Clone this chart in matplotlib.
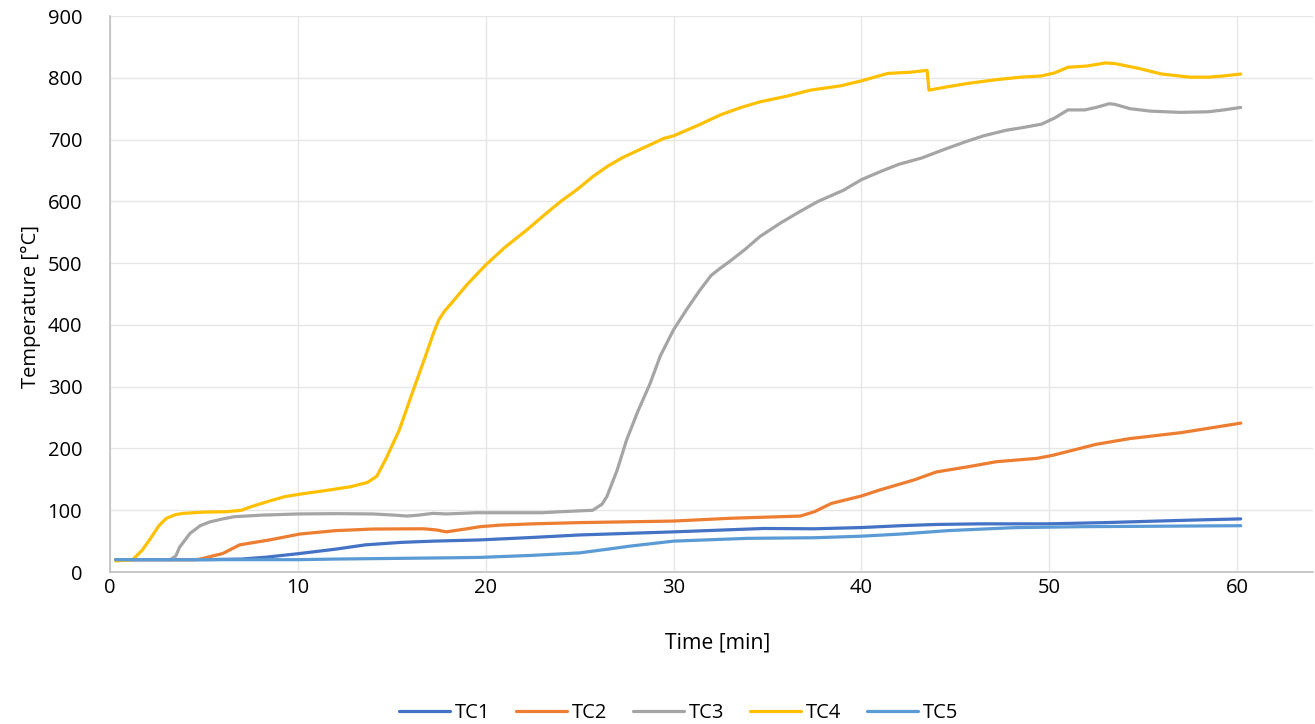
import matplotlib
matplotlib.use("Agg")
import matplotlib.pyplot as plt

plt.rcParams['font.family'] = ['Open Sans', 'DejaVu Sans']

# ---- data (time in min, temperature in °C) ----
tc1_t = [0.3, 5.0, 7.0, 8.3, 10.1, 12.0, 13.6, 15.5, 17.2, 19.7, 22.5, 25.0, 30.0, 34.8, 37.5, 40.0, 42.1, 44.0, 46.3, 49.9, 53.0, 55.2, 57.5, 60.2]
tc1_v = [20, 20, 21, 24, 30, 37, 44, 48, 50, 52, 56, 60, 65, 70.5, 70, 72, 75, 77, 78, 78, 80, 82, 84, 86]

tc2_t = [0.3, 4.5, 4.8, 6.0, 6.9, 8.5, 10.1, 12.0, 14.0, 16.7, 17.4, 17.9, 19.0, 19.7, 20.8, 22.5, 25.0, 30.0, 33.0, 36.75, 37.5, 38.4, 40.0, 41.0, 42.8, 44.0, 45.7, 47.2, 49.35, 50.2, 52.5, 54.3, 57.0, 60.2]
tc2_v = [20, 20, 21, 30, 44, 52, 61.5, 67, 69.6, 70, 68, 65, 70, 73.4, 76, 78, 80, 82.5, 87, 90.6, 97.6, 111, 123, 133, 149, 162, 170.5, 178.6, 184, 189, 206.7, 216, 225.5, 241]

tc3_t = [0.3, 3.2, 3.5, 3.7, 4.26, 4.8, 5.3, 6.0, 6.6, 8.0, 10.0, 12.0, 14.0, 15.2, 15.8, 16.4, 17.2, 17.9, 19.5, 20.8, 23.0, 24.0, 25.7, 26.2, 26.45, 27.0, 27.5, 28.1, 28.75, 29.3, 30.0, 30.7, 31.4, 32.0, 32.5, 33.0, 33.8, 34.6, 35.7, 36.7, 37.7, 39.05, 40.0, 41.0, 42.0, 43.2, 44.5, 45.6, 46.5, 47.7, 48.7, 49.6, 50.3, 51.0, 51.9, 52.5, 53.2, 53.5, 54.3, 55.4, 57.0, 58.5, 59.3, 60.2]
tc3_v = [20, 20, 26, 40, 62.6, 75, 81, 86, 89.5, 92, 94, 94.5, 94, 92, 90.6, 92, 95, 94, 96, 96, 96, 97.6, 100, 110, 122, 165, 213.6, 260, 305, 350, 392, 425, 456, 480, 492, 503, 522, 543, 565, 583, 600, 618, 635, 648, 660, 670, 685, 697, 706, 715, 720, 725, 735, 748, 748, 752, 758, 757, 750, 746, 744, 745, 748, 752]

tc4_t = [0.3, 1.2, 1.7, 2.1, 2.6, 3.0, 3.5, 3.9, 5.0, 6.2, 7.0, 7.5, 8.5, 9.3, 10.1, 11.5, 12.8, 13.7, 14.2, 14.7, 15.4, 16.15, 16.8, 17.2, 17.5, 17.8, 18.2, 19.0, 20.0, 21.0, 22.2, 23.2, 24.0, 24.9, 25.7, 26.5, 27.3, 28.5, 29.5, 30.0, 31.3, 32.5, 33.6, 34.6, 36.0, 37.3, 38.9, 40.0, 41.4, 42.6, 43.5, 43.6, 44.5, 45.7, 47.2, 48.5, 49.6, 50.3, 51.0, 52.0, 53.0, 53.5, 54.8, 56.0, 57.5, 58.5, 59.3, 60.2]
tc4_v = [18, 20, 35, 52, 75, 87, 93, 95, 97, 97.6, 100, 105.7, 115, 122, 126, 132, 138, 145, 155, 184, 230, 295, 350, 385, 408, 422, 436, 465, 497, 525, 554, 580, 600, 620, 640, 657, 671, 688, 702, 706, 723, 740, 752, 761, 770, 780, 787, 795, 807, 809, 812, 780, 785, 791, 797, 801, 803, 808, 817, 819, 824, 823, 815, 806, 801, 801, 803, 806]

tc5_t = [0.3, 10.0, 12.0, 15.0, 18.0, 19.7, 22.5, 25.0, 26.5, 27.7, 30.0, 33.9, 37.5, 40.0, 42.1, 44.6, 48.1, 51.7, 55.0, 60.2]
tc5_v = [20, 20, 21, 22, 23, 23.7, 27, 31, 37, 42, 50, 54.5, 55.5, 58, 61.5, 67, 71.8, 73.4, 74, 75]

series_names = ["TC1", "TC2", "TC3", "TC4", "TC5"]
series_t = [tc1_t, tc2_t, tc3_t, tc4_t, tc5_t]
series_v = [tc1_v, tc2_v, tc3_v, tc4_v, tc5_v]
colors = ["#4472C4", "#ED7D31", "#A5A5A5", "#FFC000", "#5B9BD5"]

x_ticks = [0, 10, 20, 30, 40, 50, 60]
y_ticks = [0, 100, 200, 300, 400, 500, 600, 700, 800, 900]

FS = 14.5

fig = plt.figure(figsize=(13.15, 7.24), dpi=100)
ax = fig.add_axes([0.0837, 0.2099, 0.9148, 0.7680])

for name, t, v, c in zip(series_names, series_t, series_v, colors):
    ax.plot(t, v, color=c, lw=2.3, label=name, solid_capstyle='round', solid_joinstyle='round')

ax.set_xlim(0, 64.05)
ax.set_ylim(0, 900)
ax.set_xticks(x_ticks)
ax.set_yticks(y_ticks)
ax.grid(True, color="#E6E6E6", lw=1.0)
ax.set_axisbelow(True)
for s in ["top", "right"]:
    ax.spines[s].set_visible(False)
for s in ["left", "bottom"]:
    ax.spines[s].set_color("#BFBFBF")
    ax.spines[s].set_linewidth(1.2)
ax.tick_params(length=0, labelsize=FS, colors="#000000")
ax.tick_params(axis='y', pad=20)
ax.tick_params(axis='x', pad=4)

ax.set_xlabel("Time [min]", fontsize=15.2, va='center')
ax.set_ylabel("Temperature [°C]", fontsize=FS, va='center')
ax.xaxis.set_label_coords(0.505, -0.128)
ax.yaxis.set_label_coords(-0.066, 0.477)

leg = fig.legend(loc="center", bbox_to_anchor=(0.516, 0.015), ncol=5, frameon=False,
                 fontsize=FS, handlelength=2.55, columnspacing=1.25, handletextpad=0.25)

fig.savefig("out.png", dpi=100)
